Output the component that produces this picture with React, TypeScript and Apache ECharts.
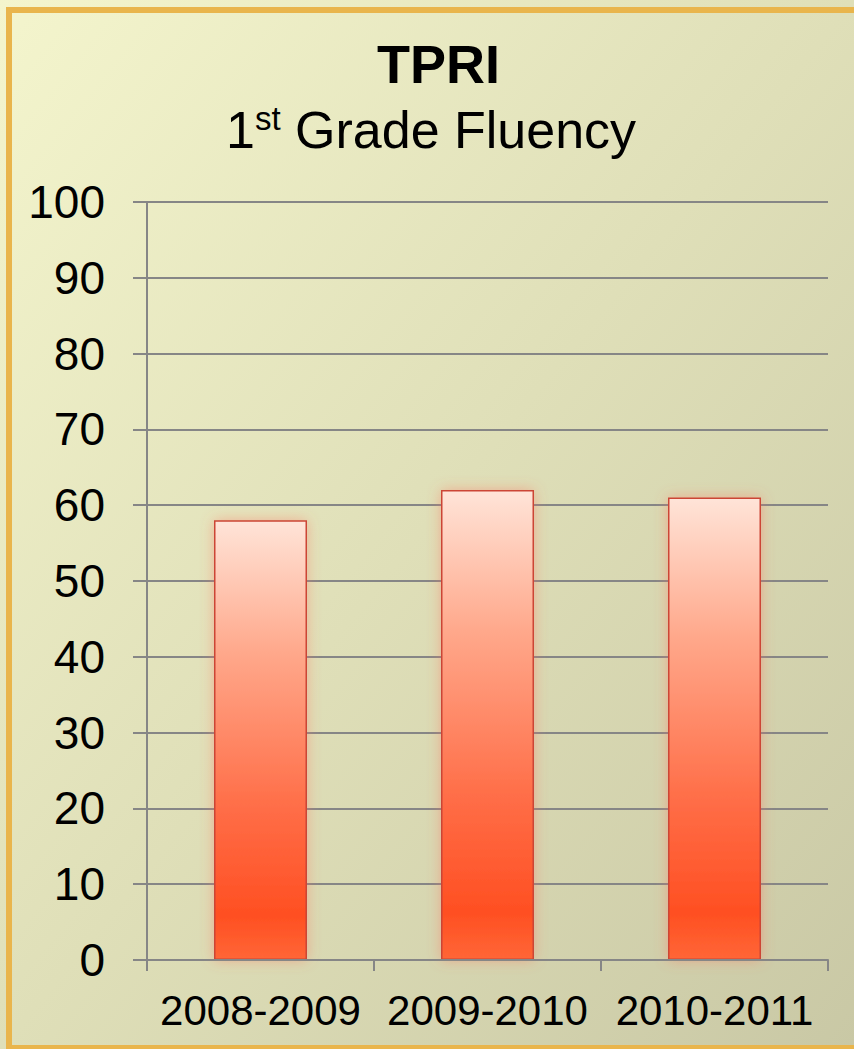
import React, { useEffect, useRef } from "react";
import * as echarts from "echarts";

const categories = ["2008-2009", "2009-2010", "2010-2011"];
const values = [58, 62, 61];
const yTicks = { min: 0, max: 100, interval: 10 };
const titleText = "TPRI";
const subtitleParts = ["1", "st", " Grade Fluency"];

export default function App() {
  const ref = useRef<HTMLDivElement>(null);
  useEffect(() => {
    if (!ref.current) return;
    const chart = echarts.init(ref.current, null, { renderer: "svg" });
    const font = "Liberation Sans, Arial, sans-serif";
    chart.setOption({
      animation: false,
      graphic: [
        {
          type: "rect",
          z: -100,
          silent: true,
          shape: { x: 0, y: 0, width: 854, height: 1049 },
          style: {
            fill: new echarts.graphic.LinearGradient(0, 0, 1, 1, [
              { offset: 0, color: "#F4F5CD" },
              { offset: 0.5, color: "#DFDFB8" },
              { offset: 1, color: "#C9C8A5" },
            ]),
          },
        },
        {
          type: "rect",
          z: 100,
          silent: true,
          shape: { x: 9, y: 10, width: 900, height: 1038 },
          style: { fill: "none", stroke: "#E9B54C", lineWidth: 6 },
        },
      ],
      title: [
        {
          text: titleText,
          left: 372,
          top: 32,
          textStyle: { fontFamily: font, fontSize: 54, fontWeight: "bold", color: "#000" },
        },
        {
          text: `{a|${subtitleParts[0]}}{b|${subtitleParts[1]}}{a|${subtitleParts[2]}}`,
          left: 221,
          top: 96,
          textStyle: {
            fontFamily: font,
            fontWeight: "normal",
            rich: {
              a: { fontFamily: font, fontSize: 52, fontWeight: "normal", lineHeight: 58, color: "#000" },
              b: { fontFamily: font, fontSize: 33, fontWeight: "normal", lineHeight: 58, color: "#000", verticalAlign: "top", padding: [1, 0, 0, 0] },
            },
          },
        },
      ],
      grid: { left: 147, right: 26, top: 202, bottom: 89, containLabel: false },
      xAxis: {
        type: "category",
        data: categories,
        boundaryGap: true,
        axisLine: { show: true, lineStyle: { color: "#868686", width: 2 } },
        axisTick: { show: true, length: 11, lineStyle: { color: "#868686", width: 2 } },
        axisLabel: { fontFamily: font, fontSize: 42, color: "#000", margin: 29, interval: 0, hideOverlap: false },
        z: 10,
      },
      yAxis: {
        type: "value",
        min: yTicks.min,
        max: yTicks.max,
        interval: yTicks.interval,
        axisLine: { show: true, lineStyle: { color: "#868686", width: 2 } },
        axisTick: { show: true, length: 14, lineStyle: { color: "#868686", width: 2 } },
        axisLabel: { fontFamily: font, fontSize: 46, color: "#000", margin: 42 },
        splitLine: { show: true, lineStyle: { color: "#868686", width: 2 } },
      },
      series: [
        {
          type: "bar",
          data: values,
          barWidth: 93,
          itemStyle: {
            color: new echarts.graphic.LinearGradient(0, 0, 0, 1, [
              { offset: 0, color: "#FFE4D8" },
              { offset: 0.3, color: "#FFA88B" },
              { offset: 0.65, color: "#FF6E48" },
              { offset: 0.9, color: "#FF4F22" },
              { offset: 1, color: "#FF6636" },
            ]),
            borderColor: "#CC4535",
            borderWidth: 1.5,
            shadowBlur: 14,
            shadowColor: "rgba(255,110,90,0.45)",
          },
        },
      ],
    });
    return () => chart.dispose();
  }, []);
  return (
    <div
      ref={ref}
      style={{ position: "absolute", left: 0, top: 0, width: 854, height: 1049 }}
    />
  );
}
